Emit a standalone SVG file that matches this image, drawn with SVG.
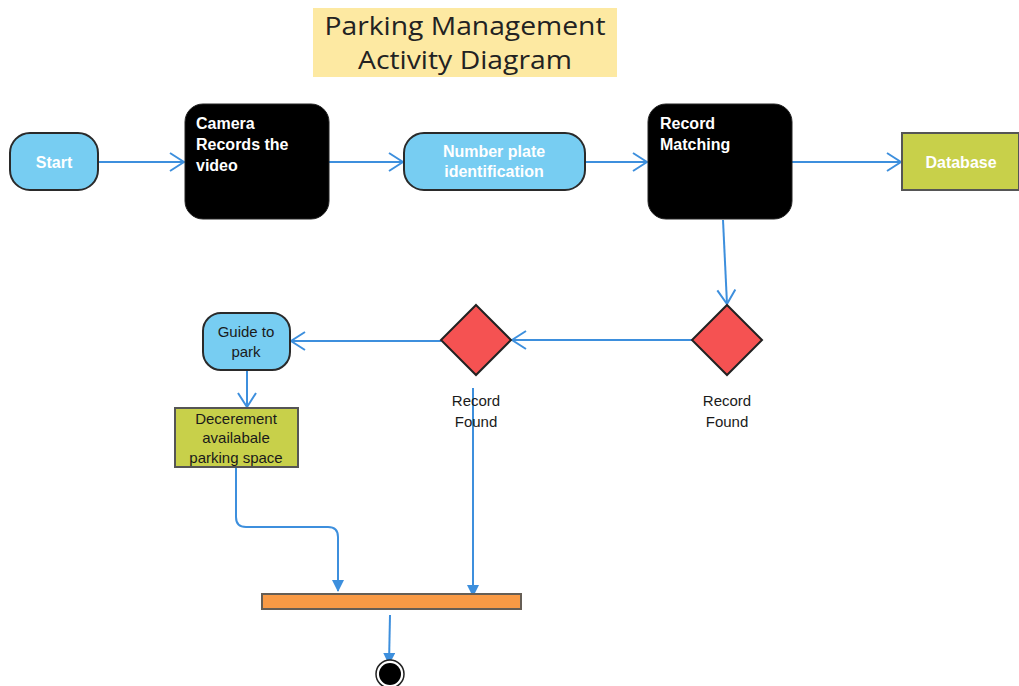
<svg xmlns="http://www.w3.org/2000/svg" width="1019" height="686" viewBox="0 0 1019 686">
<defs>
<marker id="open" viewBox="0 0 16 20" refX="15" refY="10" markerWidth="16" markerHeight="20" markerUnits="userSpaceOnUse" orient="auto">
<path d="M1,1 L15,10 L1,19" fill="none" stroke="#3d8fdd" stroke-width="2"/>
</marker>
<marker id="filled" viewBox="0 0 12 12" refX="11" refY="6" markerWidth="12" markerHeight="12" markerUnits="userSpaceOnUse" orient="auto">
<path d="M0,0 L12,6 L0,12 Z" fill="#3d8fdd"/>
</marker>
</defs>
<style>
.t{font-family:"Liberation Sans",Arial,sans-serif;font-size:16px}
.w{fill:#ffffff}
.b{font-weight:bold}
.d{fill:#1a1a1a;font-size:15px}
.blue{fill:#77cdf2;stroke:#2a2a2a;stroke-width:2}
.blk{fill:#000000;stroke:#222;stroke-width:1}
.olive{fill:#c8d04a;stroke:#555;stroke-width:2}
.dia{fill:#f55252;stroke:#222;stroke-width:2}
.c{fill:none;stroke:#3d8fdd;stroke-width:2}
</style>
<rect x="0" y="0" width="1019" height="686" fill="#ffffff"/>
<g id="title">
<rect x="313" y="8" width="304" height="69" fill="#fde9a2"/>
<text x="465" y="35" text-anchor="middle" font-family="'Open Sans',sans-serif" font-size="26" fill="#222" textLength="281" lengthAdjust="spacingAndGlyphs">Parking Management</text>
<text x="465" y="69" text-anchor="middle" font-family="'Open Sans',sans-serif" font-size="26" fill="#222" textLength="214" lengthAdjust="spacingAndGlyphs">Activity Diagram</text>
</g>
<g id="connectors">
<line class="c" x1="98" y1="162" x2="184" y2="162" marker-end="url(#open)"/>
<line class="c" x1="329" y1="162" x2="403" y2="162" marker-end="url(#open)"/>
<line class="c" x1="585" y1="162" x2="647" y2="162" marker-end="url(#open)"/>
<line class="c" x1="792" y1="162" x2="901" y2="162" marker-end="url(#open)"/>
<line class="c" x1="723" y1="220" x2="727" y2="304" marker-end="url(#open)"/>
<line class="c" x1="692" y1="340" x2="512" y2="340" marker-end="url(#open)"/>
<line class="c" x1="441" y1="341" x2="291" y2="341" marker-end="url(#open)"/>
<line class="c" x1="247" y1="370" x2="247" y2="407" marker-end="url(#open)"/>
<path class="c" d="M236,467 L236,517 Q236,527 246,527 L328,527 Q338,527 338,537 L338,591" marker-end="url(#filled)"/>
<line class="c" x1="473" y1="388" x2="473" y2="596" marker-end="url(#filled)"/>
<line class="c" x1="390" y1="615" x2="389" y2="664" marker-end="url(#filled)"/>
</g>
<g id="start">
<rect class="blue" x="10" y="133" width="88" height="57" rx="20"/>
<text class="t w b" x="54" y="168" text-anchor="middle">Start</text>
</g>
<g id="camera">
<rect class="blk" x="185" y="104" width="144" height="115" rx="18"/>
<text class="t w b" x="196" y="129">Camera</text>
<text class="t w b" x="196" y="150">Records the</text>
<text class="t w b" x="196" y="171">video</text>
</g>
<g id="numberplate">
<rect class="blue" x="404" y="133" width="181" height="57" rx="20"/>
<text class="t w b" x="494" y="157" text-anchor="middle">Number plate</text>
<text class="t w b" x="494" y="177" text-anchor="middle">identification</text>
</g>
<g id="recordmatching">
<rect class="blk" x="648" y="104" width="144" height="115" rx="18"/>
<text class="t w b" x="660" y="129">Record</text>
<text class="t w b" x="660" y="150">Matching</text>
</g>
<g id="database">
<rect class="olive" x="902" y="133" width="117" height="57"/>
<text class="t w b" x="961" y="168" text-anchor="middle">Database</text>
</g>
<g id="decision2">
<polygon class="dia" points="727,305 762,340 727,375 692,340"/>
<text class="t d" x="727" y="406" text-anchor="middle">Record</text>
<text class="t d" x="727" y="427" text-anchor="middle">Found</text>
</g>
<g id="decision1">
<polygon class="dia" points="476,305 511,340 476,375 441,340"/>
<text class="t d" x="476" y="406" text-anchor="middle">Record</text>
<text class="t d" x="476" y="427" text-anchor="middle">Found</text>
</g>
<g id="guide">
<rect class="blue" x="203" y="313" width="87" height="57" rx="18"/>
<text class="t d" x="246" y="337" text-anchor="middle">Guide to</text>
<text class="t d" x="246" y="357" text-anchor="middle">park</text>
</g>
<g id="decrement">
<rect class="olive" x="175" y="408" width="123" height="59"/>
<text class="t d" x="236" y="424" text-anchor="middle">Decerement</text>
<text class="t d" x="236" y="443" text-anchor="middle">availabale</text>
<text class="t d" x="236" y="463" text-anchor="middle">parking space</text>
</g>
<g id="join">
<rect x="262" y="594" width="259" height="15" fill="#f99a45" stroke="#665e55" stroke-width="2"/>
</g>
<g id="end">
<circle cx="390" cy="674" r="14" fill="#ffffff" stroke="#222" stroke-width="1.5"/>
<circle cx="390" cy="674" r="11" fill="#000000"/>
</g>
</svg>
